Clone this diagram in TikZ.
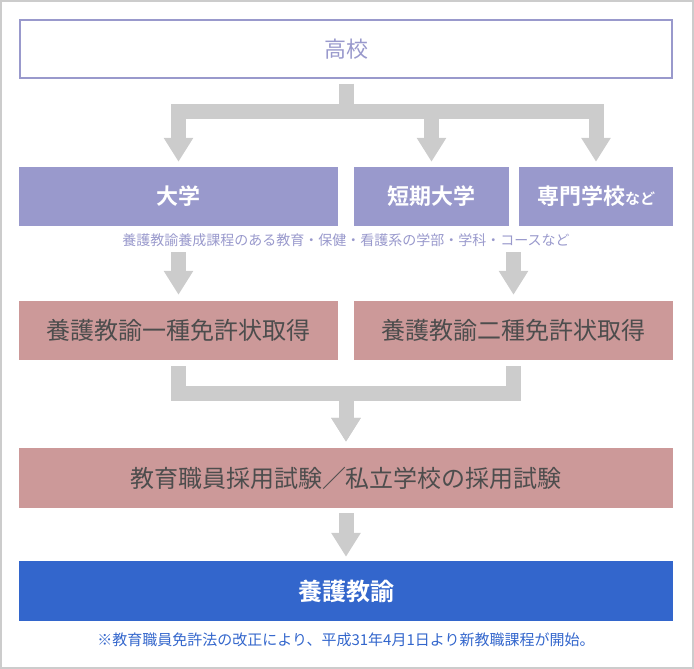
\documentclass[tikz,border=0pt]{standalone}
\usepackage{fontspec}
\setmainfont{Noto Sans CJK JP}[BoldFont={Noto Sans CJK JP Bold}]
\usetikzlibrary{arrows.meta}

\definecolor{lavender}{HTML}{9999CC}
\definecolor{rose}{HTML}{CC9999}
\definecolor{royal}{HTML}{3366CC}
\definecolor{pipe}{HTML}{CCCCCC}
\definecolor{ink}{HTML}{4D4D4D}

\newcommand{\sz}[1]{\fontsize{#1pt}{#1pt}\selectfont}

\tikzset{
  box/.style={rectangle, inner sep=0pt, minimum height=59pt},
  route/.style={draw=pipe, line width=15pt, -{Triangle[width=28pt,length=24pt]}},
}

\begin{document}
\begin{tikzpicture}[x=1pt, y=-1pt]
\useasboundingbox (0, 0) rectangle (694, 669);
\draw[pipe, line width=2pt] (1, 1) rectangle (693, 668);

\node[box, draw=lavender, line width=2pt, minimum width=652pt, minimum height=58pt, text=lavender] (koukou) at (346, 49) {\sz{22}高校};

\node[box, fill=lavender, minimum width=319pt, text=white] (daigaku) at (178.5, 196.5) {\sz{22}\bfseries 大学};
\node[box, fill=lavender, minimum width=155pt, text=white] (tandai) at (431.5, 196.5) {\sz{22}\bfseries 短期大学};
\node[box, fill=lavender, minimum width=154pt, text=white] (senmon) at (596, 196.5) {\sz{22}\bfseries 専門学校{\sz{15}など}};
\node[text=lavender, inner sep=0pt] (katei) at (346, 240) {\sz{14}養護教諭養成課程のある教育・保健・看護系の学部・学科・コースなど};

\node[box, fill=rose, minimum width=319pt, text=ink] (isshu) at (178.5, 330.5) {\sz{24}養護教諭一種免許状取得};
\node[box, fill=rose, minimum width=319pt, text=ink] (nishu) at (513.5, 330.5) {\sz{24}養護教諭二種免許状取得};

\node[box, fill=rose, minimum width=654pt, minimum height=60pt, text=ink] (saiyou) at (346, 478) {\sz{24}教育職員採用試験／私立学校の採用試験};

\node[box, fill=royal, minimum width=654pt, minimum height=60pt, text=white] (yougo) at (346, 591) {\sz{24}\bfseries 養護教諭};
\node[text=royal, inner sep=0pt] (chuuki) at (346, 640) {\sz{15}※教育職員免許法の改正により、平成31年4月1日より新教職課程が開始。};

\coordinate (bunki) at (346, 111.5);
\coordinate (goryuu) at (346, 393);

\draw[route] ([yshift=-5pt]koukou.south) -- (bunki) -| ([yshift=5pt]daigaku.north);
\draw[route] ([yshift=-5pt]koukou.south) -- (bunki) -| ([yshift=5pt]tandai.north);
\draw[route] ([yshift=-5pt]koukou.south) -- (bunki) -| ([yshift=5pt]senmon.north);

\draw[route] ([yshift=-26pt]daigaku.south) -- ([yshift=6pt]isshu.north);
\draw[route] ([yshift=-26pt]nishu.north |- daigaku.south) -- ([yshift=6pt]nishu.north);

\draw[route] ([yshift=-6pt]isshu.south) |- (goryuu) -- ([yshift=6pt]saiyou.north);
\draw[route] ([yshift=-6pt]nishu.south) |- (goryuu) -- ([yshift=6pt]saiyou.north);

\draw[route] ([yshift=-5pt]saiyou.south) -- ([yshift=4pt]yougo.north);
\end{tikzpicture}
\end{document}
